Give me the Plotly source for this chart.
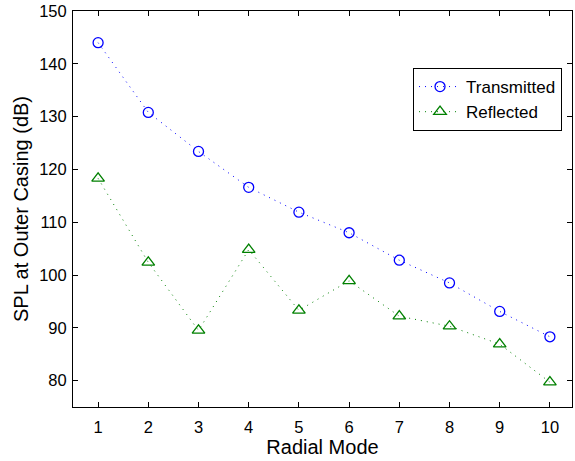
import plotly.graph_objects as go

modes = [1, 2, 3, 4, 5, 6, 7, 8, 9, 10]
transmitted = [144.0, 130.8, 123.4, 116.6, 111.9, 108.0, 102.8, 98.5, 93.1, 88.3]
reflected = [118.3, 102.4, 89.5, 104.8, 93.3, 98.9, 92.2, 90.3, 86.9, 79.7]
y_ticks = [80, 90, 100, 110, 120, 130, 140, 150]

FONT = "Liberation Sans, Arial, Helvetica, sans-serif"

fig = go.Figure()
fig.add_trace(go.Scatter(
    x=modes, y=transmitted, name="Transmitted", mode="lines+markers",
    line=dict(color="#0000ff", width=1, dash="1px,5px"),
    marker=dict(symbol="circle-open", size=10, color="#0000ff", line=dict(width=1.3)),
))
fig.add_trace(go.Scatter(
    x=modes, y=reflected, name="Reflected", mode="lines+markers",
    line=dict(color="#008000", width=1, dash="1px,5px"),
    marker=dict(symbol="triangle-up-open", size=11, color="#008000", line=dict(width=1.3)),
))

axis_common = dict(
    showline=True, linecolor="black", linewidth=1, mirror="ticks",
    ticks="inside", ticklen=5, tickcolor="black", tickwidth=1,
    showgrid=False, zeroline=False,
    tickfont=dict(family=FONT, size=16.5, color="black"),
)

fig.update_xaxes(
    range=[0.5, 10.44], tickmode="array", tickvals=modes,
    ticklabelstandoff=5,
    title=dict(text="Radial Mode", font=dict(family=FONT, size=20, color="black"), standoff=2),
    **axis_common,
)
fig.update_yaxes(
    range=[75, 150], tickmode="array", tickvals=y_ticks,
    ticklabelstandoff=2,
    title=dict(text="SPL at Outer Casing (dB)", font=dict(family=FONT, size=20, color="black"), standoff=5),
    **axis_common,
)

fig.update_layout(
    width=575, height=461,
    margin=dict(l=73, r=3, t=11, b=54),
    paper_bgcolor="white", plot_bgcolor="white",
    showlegend=True,
    legend=dict(
        x=0.98, y=0.856, xanchor="right", yanchor="top",
        xref="paper", yref="paper",
        bgcolor="white", bordercolor="black", borderwidth=1,
        font=dict(family=FONT, size=17, color="black"),
        itemwidth=42, tracegroupgap=0,
    ),
)

fig.write_html("out.html")
